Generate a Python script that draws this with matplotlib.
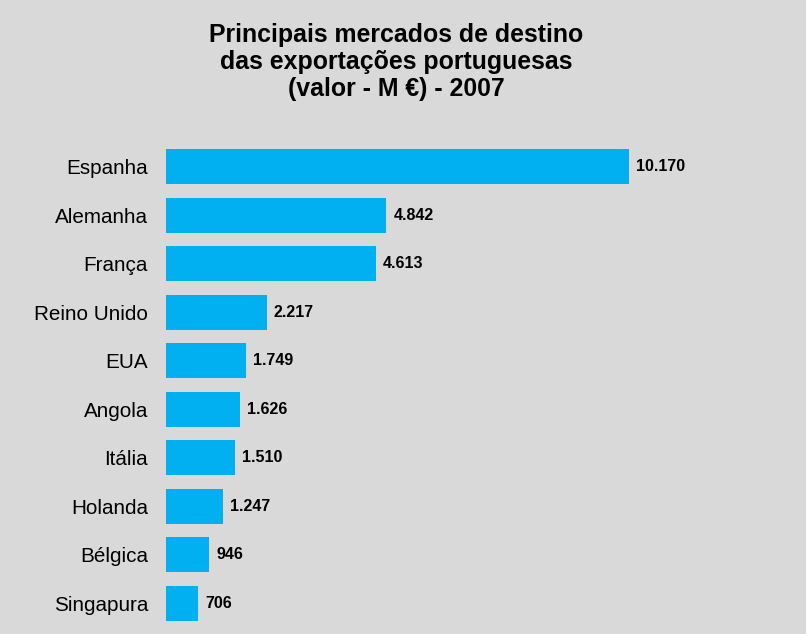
import matplotlib.pyplot as plt

paises = ['Espanha', 'Alemanha', 'França', 'Reino Unido', 'EUA',
          'Angola', 'Itália', 'Holanda', 'Bélgica', 'Singapura']
valores = [10170, 4842, 4613, 2217, 1749, 1626, 1510, 1247, 946, 706]

plt.rcParams['font.family'] = ['Liberation Sans', 'DejaVu Sans']

fundo = '#d9d9d9'
azul = '#00b0f0'

fig = plt.figure(figsize=(8.06, 6.34), dpi=100, facecolor=fundo)
ax = fig.add_axes([166 / 806, 6.2 / 634, 640 / 806, 485.6 / 634])
ax.set_facecolor(fundo)

pos = list(range(len(paises)))
ax.barh(pos, valores, height=0.72, color=azul)
ax.set_ylim(len(paises) - 0.5, -0.5)
ax.set_xlim(0, 10170 * 640 / 463)

ax.set_yticks(pos)
ax.set_yticklabels(paises, fontsize=14.9)
ax.tick_params(axis='y', length=0, pad=13)
ax.set_xticks([])
for s in ax.spines.values():
    s.set_visible(False)

for p, v in zip(pos, valores):
    rotulo = f'{v:,}'.replace(',', '.')
    ax.annotate(rotulo, (v, p), xytext=(5, 0), textcoords='offset points',
                va='center', ha='left', fontsize=11.5, fontweight='bold')

fig.text(396 / 806, 1 - 23 / 634,
         'Principais mercados de destino\ndas exportações portuguesas\n(valor - M €) - 2007',
         ha='center', va='top', fontsize=17.9, fontweight='bold', linespacing=1.17)

fig.savefig('out.png', dpi=100, facecolor=fundo)
